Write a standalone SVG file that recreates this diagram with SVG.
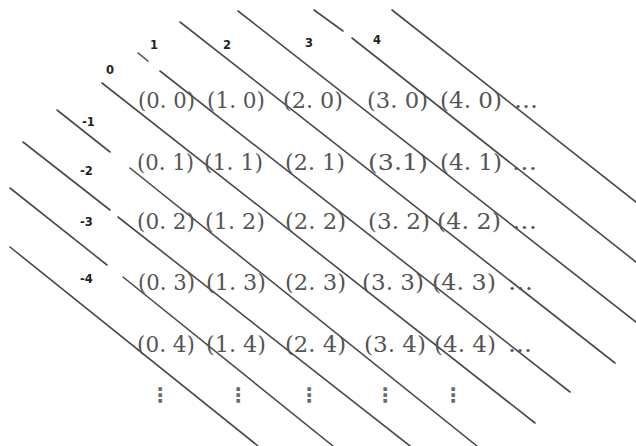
<svg xmlns="http://www.w3.org/2000/svg" width="636" height="446" viewBox="0 0 636 446">
<style>
.ln{stroke:#4a4a4a;stroke-width:1.6;fill:none;stroke-linecap:round}
.cell{font-family:"DejaVu Serif","Liberation Serif",serif;font-size:22px;fill:#555555}
.lab{font-family:"DejaVu Sans","Liberation Sans",sans-serif;font-size:11.5px;font-weight:bold;fill:#222}
.vd{font-family:"DejaVu Sans","Liberation Sans",sans-serif;font-size:20px;font-weight:bold;fill:#6a6a6a;text-anchor:middle}
</style>
<rect width="636" height="446" fill="#ffffff"/>
<g id="connectors">
<line class="ln" x1="392" y1="10" x2="636" y2="202"/>
<line class="ln" x1="314" y1="10" x2="343" y2="31"/>
<line class="ln" x1="352" y1="38" x2="636" y2="262"/>
<line class="ln" x1="238" y1="11" x2="636" y2="322"/>
<line class="ln" x1="180" y1="22" x2="615" y2="363"/>
<line class="ln" x1="138" y1="53" x2="148" y2="61"/>
<line class="ln" x1="160" y1="71" x2="570" y2="392"/>
<line class="ln" x1="102" y1="83" x2="535" y2="423"/>
<line class="ln" x1="57" y1="110" x2="110" y2="152"/>
<line class="ln" x1="130" y1="168" x2="477" y2="446"/>
<line class="ln" x1="23" y1="142" x2="110" y2="210"/>
<line class="ln" x1="118" y1="217" x2="410" y2="446"/>
<line class="ln" x1="10" y1="188" x2="107" y2="265"/>
<line class="ln" x1="123" y1="277" x2="333" y2="446"/>
<line class="ln" x1="10" y1="247" x2="258" y2="446"/>
</g>
<g id="labels">
<text class="lab" x="106" y="74">0</text>
<text class="lab" x="150" y="49">1</text>
<text class="lab" x="223" y="49">2</text>
<text class="lab" x="305" y="47">3</text>
<text class="lab" x="373" y="44">4</text>
<text class="lab" x="82" y="126">-1</text>
<text class="lab" x="80" y="175">-2</text>
<text class="lab" x="80" y="226">-3</text>
<text class="lab" x="80" y="283">-4</text>
</g>
<g id="row0">
<g id="c00"><text class="cell" x="138" y="108" textLength="57" lengthAdjust="spacingAndGlyphs">(0. 0)</text></g>
<g id="c10"><text class="cell" x="207" y="108" textLength="58" lengthAdjust="spacingAndGlyphs">(1. 0)</text></g>
<g id="c20"><text class="cell" x="283" y="108" textLength="60" lengthAdjust="spacingAndGlyphs">(2. 0)</text></g>
<g id="c30"><text class="cell" x="367" y="108" textLength="61" lengthAdjust="spacingAndGlyphs">(3. 0)</text></g>
<g id="c40"><text class="cell" x="440" y="108" textLength="62" lengthAdjust="spacingAndGlyphs">(4. 0)</text></g>
<text class="cell" x="514" y="108" textLength="24" lengthAdjust="spacingAndGlyphs">...</text>
</g>
<g id="row1">
<g id="c01"><text class="cell" x="137" y="170" textLength="57" lengthAdjust="spacingAndGlyphs">(0. 1)</text></g>
<g id="c11"><text class="cell" x="204" y="170" textLength="59" lengthAdjust="spacingAndGlyphs">(1. 1)</text></g>
<g id="c21"><text class="cell" x="285" y="170" textLength="60" lengthAdjust="spacingAndGlyphs">(2. 1)</text></g>
<g id="c31"><text class="cell" x="368" y="170" textLength="60" lengthAdjust="spacingAndGlyphs">(3.1)</text></g>
<g id="c41"><text class="cell" x="440" y="170" textLength="62" lengthAdjust="spacingAndGlyphs">(4. 1)</text></g>
<text class="cell" x="512" y="170" textLength="25" lengthAdjust="spacingAndGlyphs">...</text>
</g>
<g id="row2">
<g id="c02"><text class="cell" x="137" y="229" textLength="58" lengthAdjust="spacingAndGlyphs">(0. 2)</text></g>
<g id="c12"><text class="cell" x="205" y="229" textLength="60" lengthAdjust="spacingAndGlyphs">(1. 2)</text></g>
<g id="c22"><text class="cell" x="285" y="229" textLength="61" lengthAdjust="spacingAndGlyphs">(2. 2)</text></g>
<g id="c32"><text class="cell" x="368" y="229" textLength="62" lengthAdjust="spacingAndGlyphs">(3. 2)</text></g>
<g id="c42"><text class="cell" x="437" y="229" textLength="64" lengthAdjust="spacingAndGlyphs">(4. 2)</text></g>
<text class="cell" x="512" y="229" textLength="25" lengthAdjust="spacingAndGlyphs">...</text>
</g>
<g id="row3">
<g id="c03"><text class="cell" x="138" y="290" textLength="57" lengthAdjust="spacingAndGlyphs">(0. 3)</text></g>
<g id="c13"><text class="cell" x="206" y="290" textLength="60" lengthAdjust="spacingAndGlyphs">(1. 3)</text></g>
<g id="c23"><text class="cell" x="285" y="290" textLength="61" lengthAdjust="spacingAndGlyphs">(2. 3)</text></g>
<g id="c33"><text class="cell" x="362" y="290" textLength="62" lengthAdjust="spacingAndGlyphs">(3. 3)</text></g>
<g id="c43"><text class="cell" x="432" y="290" textLength="64" lengthAdjust="spacingAndGlyphs">(4. 3)</text></g>
<text class="cell" x="508" y="290" textLength="25" lengthAdjust="spacingAndGlyphs">...</text>
</g>
<g id="row4">
<g id="c04"><text class="cell" x="137" y="352" textLength="58" lengthAdjust="spacingAndGlyphs">(0. 4)</text></g>
<g id="c14"><text class="cell" x="206" y="352" textLength="60" lengthAdjust="spacingAndGlyphs">(1. 4)</text></g>
<g id="c24"><text class="cell" x="285" y="352" textLength="61" lengthAdjust="spacingAndGlyphs">(2. 4)</text></g>
<g id="c34"><text class="cell" x="364" y="352" textLength="62" lengthAdjust="spacingAndGlyphs">(3. 4)</text></g>
<g id="c44"><text class="cell" x="434" y="352" textLength="62" lengthAdjust="spacingAndGlyphs">(4. 4)</text></g>
<text class="cell" x="508" y="352" textLength="24" lengthAdjust="spacingAndGlyphs">...</text>
</g>
<g id="vdots">
<text class="vd" x="160" y="402">⋮</text>
<text class="vd" x="238" y="402">⋮</text>
<text class="vd" x="309" y="402">⋮</text>
<text class="vd" x="385" y="402">⋮</text>
<text class="vd" x="453" y="402">⋮</text>
</g>
</svg>
